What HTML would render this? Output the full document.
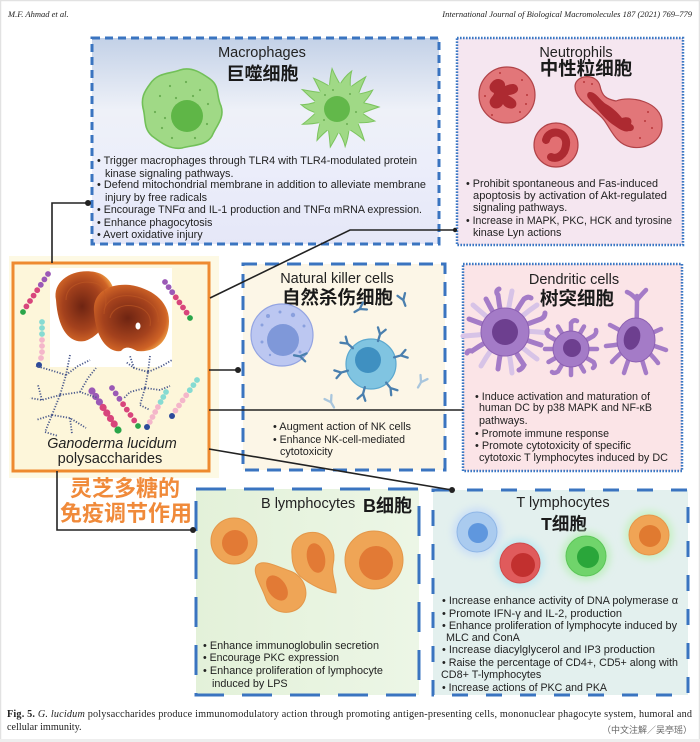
<!DOCTYPE html>
<html><head><meta charset="utf-8">
<style>
html,body{margin:0;padding:0;background:#fff;}
svg{display:block;}
.t{font-family:"Liberation Sans","Noto Sans CJK SC",sans-serif;fill:#222;}
.b{font-size:10.8px;}
.ti{font-size:14.5px;}
.cj{font-family:"Liberation Sans","Noto Sans CJK SC",sans-serif;fill:#1a1a1a;font-weight:600;}
.sf{font-family:"Liberation Serif","Noto Serif CJK SC",serif;fill:#222;}
</style></head>
<body>
<svg width="700" height="742" viewBox="0 0 700 742" xmlns="http://www.w3.org/2000/svg">
<defs>
<linearGradient id="gm" x1="0" y1="0" x2="0" y2="1">
<stop offset="0" stop-color="#c3d1e7"/>
<stop offset="0.35" stop-color="#eef1f8"/>
<stop offset="0.6" stop-color="#eceefa"/>
<stop offset="1" stop-color="#e5e7f8"/>
</linearGradient>
<linearGradient id="gb" x1="0" y1="0" x2="1" y2="0">
<stop offset="0" stop-color="#e3f1d9"/>
<stop offset="1" stop-color="#ecf6e6"/>
</linearGradient>
<radialGradient id="mush" cx="0.45" cy="0.5" r="0.6">
<stop offset="0" stop-color="#6e2412"/>
<stop offset="0.55" stop-color="#a5421d"/>
<stop offset="0.85" stop-color="#cf6326"/>
<stop offset="1" stop-color="#f0a145"/>
</radialGradient>
<filter id="glow" x="-50%" y="-50%" width="200%" height="200%"><feGaussianBlur stdDeviation="4"/></filter>
</defs>

<!-- page frame -->
<rect x="0.5" y="0.5" width="699" height="741" fill="#fff" stroke="#e2e2e2" stroke-width="1.5"/>
<rect x="0" y="739" width="700" height="3" fill="#eeeeee"/>

<!-- header -->
<text class="sf" x="8" y="17" font-size="8.5" font-style="italic">M.F. Ahmad et al.</text>
<text class="sf" x="692" y="17" font-size="8.5" font-style="italic" text-anchor="end">International Journal of Biological Macromolecules 187 (2021) 769–779</text>

<!-- ================= MACROPHAGES ================= -->
<rect x="92" y="38" width="347" height="206" fill="url(#gm)" stroke="#3a74c0" stroke-width="3" stroke-dasharray="8 5"/>
<text class="t ti" x="262" y="57" text-anchor="middle">Macrophages</text>
<text class="cj" x="262.5" y="80" font-size="18" text-anchor="middle" font-weight="500">巨噬细胞</text>
<!-- left macrophage -->
<path d="M150 84 C158 72 170 74 180 70 C192 66 203 74 210 79 C220 86 216 96 221 106 C225 118 216 126 212 136 C206 146 192 145 182 148 C170 150 160 142 152 136 C143 128 146 118 143 108 C141 98 144 92 150 84 Z" fill="#a0d986" stroke="#72c058" stroke-width="1.6"/>
<circle cx="187" cy="116" r="16" fill="#5fb647"/>
<g fill="#6aae52">
<circle cx="160" cy="96" r="1.1"/><circle cx="170" cy="86" r="1.1"/><circle cx="186" cy="82" r="1.1"/><circle cx="200" cy="90" r="1.1"/><circle cx="208" cy="104" r="1.1"/><circle cx="155" cy="112" r="1.1"/><circle cx="162" cy="128" r="1.1"/><circle cx="172" cy="138" r="1.1"/><circle cx="195" cy="138" r="1.1"/><circle cx="207" cy="124" r="1.1"/><circle cx="176" cy="98" r="1.1"/><circle cx="193" cy="96" r="1.1"/><circle cx="165" cy="118" r="1.1"/>
</g>
<!-- spiky macrophage -->
<g fill="#a0d986" stroke="#7cc45e" stroke-width="1">
<path d="M360 102 Q370 104 379 107 Q370 110 360 114 Z" transform="rotate(0 339 108)"/>
<path d="M360 102 Q370 104 377 104 Q370 110 360 114 Z" transform="rotate(26 339 108)"/>
<path d="M360 102 Q370 104 380 108 Q370 110 360 114 Z" transform="rotate(52 339 108)"/>
<path d="M360 102 Q370 105 378 110 Q370 110 360 114 Z" transform="rotate(78 339 108)"/>
<path d="M360 102 Q370 104 379 107 Q370 110 360 114 Z" transform="rotate(104 339 108)"/>
<path d="M360 102 Q370 104 378 104 Q370 110 360 114 Z" transform="rotate(130 339 108)"/>
<path d="M360 102 Q370 104 379 108 Q370 110 360 114 Z" transform="rotate(156 339 108)"/>
<path d="M360 102 Q370 104 377 110 Q370 110 360 114 Z" transform="rotate(182 339 108)"/>
<path d="M360 102 Q370 104 380 107 Q370 110 360 114 Z" transform="rotate(208 339 108)"/>
<path d="M360 102 Q370 104 378 105 Q370 110 360 114 Z" transform="rotate(234 339 108)"/>
<path d="M360 102 Q370 104 379 108 Q370 110 360 114 Z" transform="rotate(260 339 108)"/>
<path d="M360 102 Q370 104 378 110 Q370 110 360 114 Z" transform="rotate(286 339 108)"/>
<path d="M360 102 Q370 104 380 107 Q370 110 360 114 Z" transform="rotate(312 339 108)"/>
<path d="M360 102 Q370 104 377 104 Q370 110 360 114 Z" transform="rotate(338 339 108)"/>
</g>
<circle cx="339" cy="108" r="25" fill="#a0d986"/>
<circle cx="337" cy="109" r="13" fill="#62b84a"/>
<g fill="#6aae52">
<circle cx="325" cy="95" r="1"/><circle cx="350" cy="94" r="1"/><circle cx="356" cy="112" r="1"/><circle cx="347" cy="124" r="1"/><circle cx="324" cy="120" r="1"/><circle cx="333" cy="90" r="1"/>
</g>
<text class="t b" x="97" y="164" textLength="320" lengthAdjust="spacingAndGlyphs">• Trigger macrophages through TLR4 with TLR4-modulated protein</text>
<text class="t b" x="105" y="177">kinase signaling pathways.</text>
<text class="t b" x="97" y="188" textLength="329" lengthAdjust="spacingAndGlyphs">• Defend mitochondrial membrane in addition to alleviate membrane</text>
<text class="t b" x="105" y="201">injury by free radicals</text>
<text class="t b" x="97" y="213" textLength="325" lengthAdjust="spacingAndGlyphs">• Encourage TNFα and IL-1 production and TNFα mRNA expression.</text>
<text class="t b" x="97" y="226">• Enhance phagocytosis</text>
<text class="t b" x="97" y="238">• Avert oxidative injury</text>

<!-- ================= NEUTROPHILS ================= -->
<rect x="457" y="38" width="226" height="207" fill="#f5e6f0" stroke="#3b78c4" stroke-width="2.5" stroke-dasharray="1.6 1.4"/>
<text class="t ti" x="576" y="57" text-anchor="middle">Neutrophils</text>
<text class="cj" x="586" y="75" font-size="18.5" text-anchor="middle">中性粒细胞</text>
<!-- big neutrophil -->
<circle cx="507" cy="95" r="28" fill="#e27679" stroke="#b04348" stroke-width="1.2"/>
<g fill="#ad2a31">
<path d="M492 82 C497 76 506 80 505 86 C510 84 516 82 518 88 C519 93 512 95 508 95 C512 98 518 100 516 106 C513 111 505 108 503 104 C500 110 492 110 490 104 C488 99 494 96 494 93 C489 91 488 86 492 82 Z"/>
</g>
<g fill="#b8383c"><circle cx="522" cy="80" r="1"/><circle cx="527" cy="95" r="1"/><circle cx="520" cy="112" r="1"/><circle cx="492" cy="115" r="1"/><circle cx="485" cy="96" r="1"/><circle cx="500" cy="73" r="1"/><circle cx="526" cy="104" r="1"/></g>
<!-- disc neutrophil -->
<circle cx="556" cy="145" r="22" fill="#e26f72" stroke="#b04348" stroke-width="1.2"/>
<path d="M546 140 C549 128 568 131 566 145 C565 155 557 160 551 157" fill="none" stroke="#ad2a31" stroke-width="8" stroke-linecap="round"/>
<!-- dumbbell neutrophil -->
<path d="M575 86 C576 74 597 73 600 86 C602 96 606 99 616 101 C631 95 662 102 662 123 C663 141 646 150 631 147 C616 144 612 131 604 120 C596 109 575 102 575 86 Z" fill="#e27679" stroke="#b04348" stroke-width="1.2"/>
<path d="M590 92 C596 92 600 100 606 104 C613 108 618 113 622 118 C628 116 633 118 631 124 C636 126 634 132 629 131 C624 133 618 128 612 124 C604 118 596 108 589 99 C586 96 587 92 590 92 Z" fill="#ad2a31"/>
<g fill="#b8383c"><circle cx="584" cy="82" r="1"/><circle cx="648" cy="112" r="1"/><circle cx="652" cy="128" r="1"/><circle cx="640" cy="138" r="1"/><circle cx="645" cy="121" r="1"/><circle cx="592" cy="84" r="1"/></g>
<text class="t b" x="466" y="187" textLength="192" lengthAdjust="spacingAndGlyphs">• Prohibit spontaneous and Fas-induced</text>
<text class="t b" x="473" y="199" textLength="194" lengthAdjust="spacingAndGlyphs">apoptosis by activation of Akt-regulated</text>
<text class="t b" x="473" y="211">signaling pathways.</text>
<text class="t b" x="466" y="224" textLength="206" lengthAdjust="spacingAndGlyphs">• Increase in MAPK, PKC, HCK and tyrosine</text>
<text class="t b" x="473" y="236">kinase Lyn actions</text>

<!-- ================= LEFT BOX ================= -->
<rect x="9" y="256" width="210" height="222" fill="#fdf9e4"/>
<rect x="13" y="263" width="196" height="208" fill="#fdf6da" stroke="#ee8a30" stroke-width="3"/>
<rect x="50" y="268" width="122" height="99" fill="#ffffff"/>
<!-- mushrooms -->
<path d="M56 300 C52 280 74 268 95 272 C110 275 118 290 113 306 C108 321 100 336 85 341 C70 344 58 330 56 300 Z" fill="url(#mush)"/>
<path d="M94 312 C92 292 110 283 130 285 C150 288 169 300 169 321 C169 341 156 353 137 351 C130 347 125 346 121 351 C110 353 96 341 94 312 Z" fill="url(#mush)"/>
<g fill="none" stroke="#c05a24" stroke-width="1" opacity="0.6">
<path d="M66 300 C66 285 82 280 95 283 C106 286 108 300 104 310"/>
<path d="M104 314 C104 300 118 294 132 296 C148 298 160 308 158 322"/>
<path d="M110 318 C112 308 124 304 134 306 C146 308 152 316 150 326"/>
</g>
<ellipse cx="138" cy="326" rx="2.5" ry="3.5" fill="#fff"/>
<!-- bead chains -->
<g stroke="none">
<circle cx="48" cy="274" r="2.9" fill="#9b59b6"/><circle cx="44.4" cy="279.4" r="2.9" fill="#9b59b6"/><circle cx="40.8" cy="284.8" r="2.9" fill="#9b59b6"/><circle cx="37.2" cy="290.2" r="2.9" fill="#d8457c"/><circle cx="33.6" cy="295.6" r="2.9" fill="#d8457c"/><circle cx="30" cy="301" r="2.9" fill="#d8457c"/><circle cx="26.4" cy="306.4" r="2.9" fill="#d8457c"/><circle cx="23" cy="312" r="2.9" fill="#2aa54a"/>
<circle cx="165" cy="282" r="2.9" fill="#9b59b6"/><circle cx="168.6" cy="287.1" r="2.9" fill="#9b59b6"/><circle cx="172.2" cy="292.2" r="2.9" fill="#9b59b6"/><circle cx="175.8" cy="297.3" r="2.9" fill="#d8457c"/><circle cx="179.4" cy="302.4" r="2.9" fill="#d8457c"/><circle cx="183" cy="307.5" r="2.9" fill="#d8457c"/><circle cx="186.6" cy="312.6" r="2.9" fill="#d8457c"/><circle cx="190" cy="318" r="2.9" fill="#2aa54a"/>
<circle cx="42" cy="322" r="2.9" fill="#86dbd2"/><circle cx="42" cy="328" r="2.9" fill="#86dbd2"/><circle cx="42" cy="334" r="2.9" fill="#86dbd2"/><circle cx="42" cy="340" r="2.9" fill="#f4b6ca"/><circle cx="42" cy="346" r="2.9" fill="#f4b6ca"/><circle cx="42" cy="352" r="2.9" fill="#f4b6ca"/><circle cx="41" cy="358" r="2.9" fill="#f4b6ca"/><circle cx="39" cy="365" r="3" fill="#2c4a9a"/>
<circle cx="92" cy="391" r="3.6" fill="#9b59b6"/><circle cx="95.7" cy="396.5" r="3.6" fill="#9b59b6"/><circle cx="99.4" cy="402" r="3.6" fill="#9b59b6"/><circle cx="103.1" cy="407.5" r="3.6" fill="#d8457c"/><circle cx="106.8" cy="413" r="3.6" fill="#d8457c"/><circle cx="110.5" cy="418.5" r="3.6" fill="#d8457c"/><circle cx="114.2" cy="424" r="3.6" fill="#d8457c"/><circle cx="118" cy="430" r="3.6" fill="#2aa54a"/>
<circle cx="112" cy="388" r="2.9" fill="#9b59b6"/><circle cx="115.7" cy="393.4" r="2.9" fill="#9b59b6"/><circle cx="119.4" cy="398.8" r="2.9" fill="#9b59b6"/><circle cx="123.1" cy="404.2" r="2.9" fill="#d8457c"/><circle cx="126.8" cy="409.6" r="2.9" fill="#d8457c"/><circle cx="130.5" cy="415" r="2.9" fill="#d8457c"/><circle cx="134.2" cy="420.4" r="2.9" fill="#d8457c"/><circle cx="138" cy="426" r="2.9" fill="#2aa54a"/>
<circle cx="166" cy="392" r="2.9" fill="#86dbd2"/><circle cx="163.3" cy="397" r="2.9" fill="#86dbd2"/><circle cx="160.6" cy="402" r="2.9" fill="#86dbd2"/><circle cx="157.9" cy="407" r="2.9" fill="#f4b6ca"/><circle cx="155.2" cy="412" r="2.9" fill="#f4b6ca"/><circle cx="152.5" cy="417" r="2.9" fill="#f4b6ca"/><circle cx="149.8" cy="422" r="2.9" fill="#f4b6ca"/><circle cx="147" cy="427" r="3" fill="#2c4a9a"/>
<circle cx="197" cy="380" r="2.9" fill="#86dbd2"/><circle cx="193.4" cy="385.1" r="2.9" fill="#86dbd2"/><circle cx="189.8" cy="390.2" r="2.9" fill="#86dbd2"/><circle cx="186.2" cy="395.3" r="2.9" fill="#f4b6ca"/><circle cx="182.6" cy="400.4" r="2.9" fill="#f4b6ca"/><circle cx="179" cy="405.5" r="2.9" fill="#f4b6ca"/><circle cx="175.4" cy="410.6" r="2.9" fill="#f4b6ca"/><circle cx="172" cy="416" r="3" fill="#2c4a9a"/>
</g>
<!-- branched trees -->
<g fill="none" stroke="#4b5a8c" stroke-width="1.8" stroke-dasharray="1.2 1.6">
<path d="M70 355 L66 375 L60 395 L52 415 L45 432"/>
<path d="M66 375 L50 370 L36 366"/><path d="M60 395 L80 392 L98 398"/><path d="M60 395 L42 400 L30 398"/>
<path d="M52 415 L70 418 L86 428"/><path d="M52 415 L36 420"/><path d="M80 392 L88 378 L96 368"/>
<path d="M70 418 L72 434"/><path d="M66 375 L78 366 L90 360"/><path d="M45 432 L58 436"/><path d="M42 400 L38 385"/>
<path d="M150 356 L148 372 L145 388 L140 405"/>
<path d="M148 372 L134 368 L126 362"/><path d="M148 372 L162 366 L172 360"/><path d="M145 388 L130 392 L124 398"/>
<path d="M145 388 L160 390 L170 386"/><path d="M140 405 L150 410"/><path d="M134 368 L130 356"/>
</g>
<text class="t" x="112" y="448" font-size="14.4" font-style="italic" text-anchor="middle">Ganoderma lucidum</text>
<text class="t" x="110" y="463" font-size="14.6" text-anchor="middle">polysaccharides</text>

<!-- Chinese orange title -->
<text x="125" y="496" font-family="'Liberation Sans','Noto Sans CJK SC',sans-serif" font-size="22" font-weight="bold" fill="#f08a3a" text-anchor="middle">灵芝多糖的</text>
<text x="126" y="521" font-family="'Liberation Sans','Noto Sans CJK SC',sans-serif" font-size="22" font-weight="bold" fill="#f08a3a" text-anchor="middle">免疫调节作用</text>

<!-- ================= NK ================= -->
<rect x="243" y="264" width="202" height="206" fill="#fcf6e7" stroke="#3a74c0" stroke-width="3" stroke-dasharray="14 8"/>
<text class="t ti" x="337" y="283" text-anchor="middle">Natural killer cells</text>
<text class="cj" x="337.5" y="304" font-size="18.5" text-anchor="middle">自然杀伤细胞</text>
<circle cx="282" cy="335" r="31" fill="#bcc7f1" stroke="#93a4e2" stroke-width="1.2"/>
<circle cx="283" cy="340" r="16" fill="#7f98d9"/>
<g fill="#8aa0de"><circle cx="262" cy="325" r="1.5"/><circle cx="268" cy="316" r="2"/><circle cx="280" cy="312" r="1.5"/><circle cx="293" cy="315" r="2.2"/><circle cx="304" cy="326" r="1.5"/><circle cx="262" cy="342" r="1.5"/><circle cx="270" cy="355" r="1.2"/><circle cx="300" cy="352" r="1.5"/></g>
<circle cx="371" cy="364" r="25" fill="#80c4e1" stroke="#5ba8cf" stroke-width="1.2"/>
<circle cx="368" cy="360" r="13" fill="#3f90c1"/>
<g fill="none" stroke="#4a7fae" stroke-width="2.3" stroke-linecap="round">
<path d="M-2 0 L5 0 M5 0 L11 -4 M5 0 L11 4" transform="translate(378.6 339.1) rotate(-73)"/>
<path d="M-2 0 L5 0 M5 0 L11 -4 M5 0 L11 4" transform="translate(351.4 346.9) rotate(-139)"/>
<path d="M-2 0 L5 0 M5 0 L11 -4 M5 0 L11 4" transform="translate(396 356.8) rotate(-16)"/>
<path d="M-2 0 L5 0 M5 0 L11 -4 M5 0 L11 4" transform="translate(346 371.2) rotate(164)"/>
<path d="M-2 0 L5 0 M5 0 L11 -4 M5 0 L11 4" transform="translate(387.4 384.2) rotate(51)"/>
<path d="M-2 0 L5 0 M5 0 L11 -4 M5 0 L11 4" transform="translate(364.3 389.1) rotate(105)"/>
<path d="M-4 0 L2 0 M2 0 L8 -4 M2 0 L8 4" transform="translate(358 310) rotate(-30)"/>
<path d="M-4 0 L2 0 M2 0 L8 -4 M2 0 L8 4" transform="translate(404 302) rotate(-110)"/>
<path d="M-4 0 L2 0 M2 0 L8 -4 M2 0 L8 4" transform="translate(298 356) rotate(10)"/>
</g>
<g fill="none" stroke="#a9c6dd" stroke-width="2.3" stroke-linecap="round">
<path d="M-4 0 L2 0 M2 0 L8 -4 M2 0 L8 4" transform="translate(420 384) rotate(-60)"/>
<path d="M-4 0 L2 0 M2 0 L8 -4 M2 0 L8 4" transform="translate(332 404) rotate(-120)"/>
</g>
<text class="t b" x="273" y="430" textLength="138" lengthAdjust="spacingAndGlyphs">• Augment action of NK cells</text>
<text class="t b" x="273" y="443" textLength="132" lengthAdjust="spacingAndGlyphs">• Enhance NK-cell-mediated</text>
<text class="t b" x="280" y="455">cytotoxicity</text>

<!-- ================= DENDRITIC ================= -->
<rect x="463" y="264" width="219" height="207" fill="#fbe4e7" stroke="#3b78c4" stroke-width="2.5" stroke-dasharray="1.6 1.4"/>
<text class="t ti" x="574" y="284" text-anchor="middle">Dendritic cells</text>
<text class="cj" x="577" y="305" font-size="18.5" text-anchor="middle" font-weight="500">树突细胞</text>
<!-- cell1 -->
<g stroke="#d7c3e7" stroke-width="5" stroke-linecap="round" fill="none">
<path d="M505 332 Q508 310 512 291"/><path d="M505 332 Q522 315 537 305"/><path d="M505 332 Q528 330 547 333"/><path d="M505 332 Q522 348 537 359"/><path d="M505 332 Q510 355 512 373"/><path d="M505 332 Q490 350 481 366"/><path d="M505 332 Q480 335 463 336"/><path d="M505 332 Q488 318 473 305"/>
</g>
<g stroke="#a47bc7" stroke-width="5" stroke-linecap="round" fill="none">
<path d="M505 332 Q500 312 498 295 Q495 291 499 289"/><path d="M505 332 Q515 312 524 299 Q528 296 531 298"/><path d="M505 332 Q525 325 541 319 Q545 317 545 313"/><path d="M505 332 Q525 340 541 345"/><path d="M505 332 Q515 352 524 365 Q522 369 519 370"/><path d="M505 332 Q500 352 498 369"/><path d="M505 332 Q485 342 472 351 Q468 350 467 353"/><path d="M505 332 Q485 325 469 319"/><path d="M505 332 Q494 315 486 299"/>
</g>
<circle cx="505" cy="332" r="24" fill="#a47bc7" stroke="#8c60b2" stroke-width="1"/>
<circle cx="505" cy="332" r="13" fill="#6d3f8f"/>
<!-- cell2 -->
<g stroke="#a47bc7" stroke-width="4.5" stroke-linecap="round" fill="none">
<path d="M571 349 L597 349"/><path d="M571 349 L593.5 362 Q596 366 593 368"/><path d="M571 349 L584 371.5"/><path d="M571 349 L571 375"/><path d="M571 349 L558 371.5 Q554 374 552 372"/><path d="M571 349 L548.5 362"/><path d="M571 349 L545 349"/><path d="M571 349 L548.5 336 Q545 332 548 330"/><path d="M571 349 L558 326.5"/><path d="M571 349 L571 323 Q574 319 577 321"/><path d="M571 349 L584 326.5"/><path d="M571 349 L593.5 336 Q597 333 596 330"/>
</g>
<circle cx="571" cy="349" r="18" fill="#a47bc7" stroke="#8c60b2" stroke-width="1"/>
<circle cx="572" cy="348" r="9" fill="#6d3f8f"/>
<!-- cell3 -->
<g stroke="#a47bc7" stroke-width="4.5" stroke-linecap="round" fill="none">
<path d="M636 340 Q637 315 637 296"/><path d="M637 300 Q632 294 627 292"/><path d="M637 300 Q642 294 646 290"/>
<path d="M636 340 Q620 330 610 325"/><path d="M636 340 Q620 345 606 346"/><path d="M636 340 Q652 333 661 329"/><path d="M636 340 Q655 346 666 350"/><path d="M636 340 Q628 360 624 373"/><path d="M636 340 Q642 360 646 373"/><path d="M636 340 Q652 355 658 363"/><path d="M636 340 Q618 355 612 362"/>
</g>
<ellipse cx="636" cy="340" rx="19" ry="22" fill="#a47bc7" stroke="#8c60b2" stroke-width="1"/>
<ellipse cx="632" cy="338" rx="8" ry="12" fill="#6d3f8f" transform="rotate(15 632 338)"/>
<text class="t b" x="475" y="400" textLength="175" lengthAdjust="spacingAndGlyphs">• Induce activation and maturation of</text>
<text class="t b" x="479" y="411" textLength="173" lengthAdjust="spacingAndGlyphs">human DC by p38 MAPK and NF-κB</text>
<text class="t b" x="479" y="424">pathways.</text>
<text class="t b" x="475" y="437" textLength="134" lengthAdjust="spacingAndGlyphs">• Promote immune response</text>
<text class="t b" x="475" y="449" textLength="156" lengthAdjust="spacingAndGlyphs">• Promote cytotoxicity of specific</text>
<text class="t b" x="479" y="461" textLength="189" lengthAdjust="spacingAndGlyphs">cytotoxic T lymphocytes induced by DC</text>

<!-- ================= B LYMPHOCYTES ================= -->
<rect x="196" y="489" width="223" height="206" fill="url(#gb)" stroke="#3a74c0" stroke-width="3" stroke-dasharray="30 18"/>
<text class="t ti" x="261" y="508">B lymphocytes</text>
<text class="cj" x="363" y="512" font-size="18" font-weight="500">B细胞</text>
<circle cx="234" cy="541" r="23" fill="#efa556" stroke="#e3974a" stroke-width="1"/>
<circle cx="235" cy="543" r="13" fill="#e27a35"/>
<path d="M257 565 C263 559 276 566 290 571 C305 576 311 595 301 606 C291 617 271 613 266 599 C262 586 251 572 257 565 Z" fill="#efa556" stroke="#e3974a" stroke-width="1"/>
<ellipse cx="277" cy="588" rx="9" ry="14" fill="#e27a35" transform="rotate(-35 277 588)"/>
<path d="M292 555 C290 538 305 530 318 533 C332 537 336 552 333 565 C331 575 337 585 336 593 C326 592 310 585 300 576 C294 570 292 563 292 555 Z" fill="#efa556" stroke="#e3974a" stroke-width="1"/>
<ellipse cx="316" cy="558" rx="9" ry="15" fill="#e27a35" transform="rotate(-12 316 558)"/>
<circle cx="374" cy="560" r="29" fill="#efa556" stroke="#e3974a" stroke-width="1"/>
<circle cx="376" cy="563" r="17" fill="#e27a35"/>
<text class="t b" x="203" y="649" textLength="176" lengthAdjust="spacingAndGlyphs">• Enhance immunoglobulin secretion</text>
<text class="t b" x="203" y="661" textLength="136" lengthAdjust="spacingAndGlyphs">• Encourage PKC expression</text>
<text class="t b" x="203" y="674" textLength="180" lengthAdjust="spacingAndGlyphs">• Enhance proliferation of lymphocyte</text>
<text class="t b" x="212" y="687">induced by LPS</text>

<!-- ================= T LYMPHOCYTES ================= -->
<rect x="433" y="490" width="255" height="205" fill="#e3f0ee" stroke="#3a74c0" stroke-width="3" stroke-dasharray="16 18"/>
<text class="t ti" x="563" y="507" text-anchor="middle">T lymphocytes</text>
<text class="cj" x="564" y="530" font-size="17.5" text-anchor="middle" font-weight="500">T细胞</text>
<circle cx="477" cy="532" r="24" fill="#c9def6" filter="url(#glow)"/>
<circle cx="477" cy="532" r="20" fill="#aacbef" stroke="#8fb6e6" stroke-width="1"/>
<circle cx="478" cy="533" r="10" fill="#5f97de"/>
<circle cx="520" cy="563" r="24" fill="#bfe7f0" filter="url(#glow)"/>
<circle cx="520" cy="563" r="20" fill="#e05b5c" stroke="#d04a4b" stroke-width="1"/>
<circle cx="523" cy="565" r="12" fill="#c2302f"/>
<circle cx="586" cy="556" r="24" fill="#bfeec0" filter="url(#glow)"/>
<circle cx="586" cy="556" r="20" fill="#70d46b" stroke="#5cc658" stroke-width="1"/>
<circle cx="588" cy="557" r="11" fill="#2aa63a"/>
<circle cx="649" cy="535" r="24" fill="#c7f0c4" filter="url(#glow)"/>
<circle cx="649" cy="535" r="20" fill="#f0a455" stroke="#e6964a" stroke-width="1"/>
<circle cx="650" cy="536" r="11" fill="#e07a30"/>
<text class="t b" x="442" y="604" textLength="236" lengthAdjust="spacingAndGlyphs">• Increase enhance activity of DNA  polymerase α</text>
<text class="t b" x="442" y="617" textLength="180" lengthAdjust="spacingAndGlyphs">• Promote  IFN-γ  and IL-2, production</text>
<text class="t b" x="442" y="629" textLength="235" lengthAdjust="spacingAndGlyphs">• Enhance proliferation of lymphocyte induced by</text>
<text class="t b" x="446" y="641">MLC and ConA</text>
<text class="t b" x="442" y="653" textLength="213" lengthAdjust="spacingAndGlyphs">• Increase diacylglycerol and IP3  production</text>
<text class="t b" x="442" y="666" textLength="236" lengthAdjust="spacingAndGlyphs">• Raise the percentage of CD4+,  CD5+ along with</text>
<text class="t b" x="441" y="678">CD8+ T-lymphocytes</text>
<text class="t b" x="442" y="691" textLength="165" lengthAdjust="spacingAndGlyphs">• Increase actions of PKC and PKA</text>

<!-- ================= CONNECTORS ================= -->
<g stroke="#222" stroke-width="1.6" fill="none">
<polyline points="52,263 52,203 88,203"/>
<polyline points="210,298 350,230 455,230"/>
<line x1="209" y1="370" x2="238" y2="370"/>
<line x1="209" y1="410" x2="463" y2="410"/>
<line x1="209" y1="449" x2="452" y2="490"/>
<polyline points="57,471 57,530 193,530"/>
</g>
<g fill="#222">
<circle cx="88" cy="203" r="3"/>
<circle cx="455" cy="230" r="2.2"/>
<circle cx="238" cy="370" r="3"/>
<circle cx="452" cy="490" r="3"/>
<circle cx="193" cy="530" r="3"/>
</g>

<!-- ================= CAPTION ================= -->
<text class="sf" x="7" y="717" font-size="10.2" textLength="685" lengthAdjust="spacing"><tspan font-weight="bold">Fig. 5.</tspan> <tspan font-style="italic">G. lucidum</tspan> polysaccharides produce immunomodulatory action through promoting antigen-presenting cells, mononuclear phagocyte system, humoral and</text>
<text class="sf" x="7" y="730" font-size="10.2">cellular immunity.</text>
<text x="692" y="733" font-size="9" fill="#666" text-anchor="end" font-family="'Liberation Sans','Noto Sans CJK SC',sans-serif">（中文注解／吴亭瑶）</text>
</svg>
</body></html>
